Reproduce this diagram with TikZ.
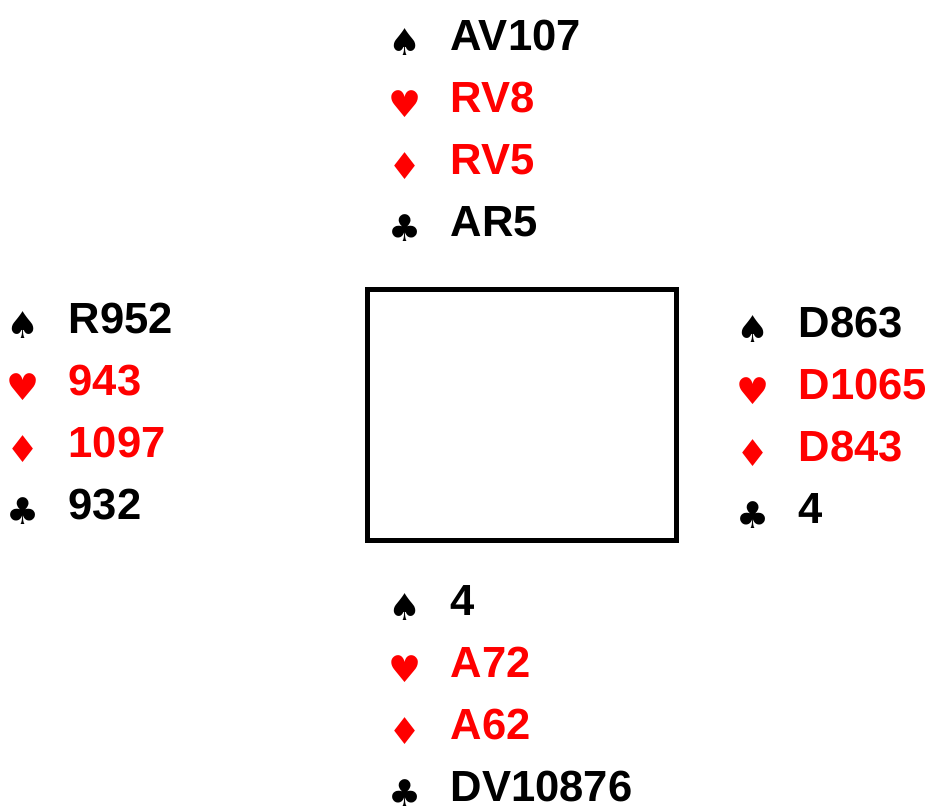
\documentclass[tikz,border=0pt]{standalone}
\usepackage{fontspec}
\setmainfont{Liberation Sans}
\newfontfamily\suitfont{DejaVu Sans}
\usepackage{tikz}
\usetikzlibrary{positioning}

\tikzset{
holding/.style={anchor=west, inner sep=0pt, text height=8.7pt, text depth=0pt, font=\bfseries\fontsize{12.4}{14}\selectfont},
suit/.style={inner sep=0pt, font=\suitfont\fontsize{10.5}{12}\selectfont},
redsuit/.style={red},
}

\newcommand{\hand}[6]{%
\node[holding] (#1sp) at (#2) {#3};
\node[holding, redsuit, below=0.30cm of #1sp.south west, anchor=north west] (#1he) {#4};
\node[holding, redsuit, below=0.30cm of #1he.south west, anchor=north west] (#1di) {#5};
\node[holding, below=0.30cm of #1di.south west, anchor=north west] (#1cl) {#6};
\node[suit] at ([xshift=-0.45cm, yshift=-0.07cm]#1sp.west) {♠};
\node[suit, redsuit] at ([xshift=-0.45cm, yshift=-0.07cm]#1he.west) {♥};
\node[suit, redsuit] at ([xshift=-0.45cm, yshift=-0.07cm]#1di.west) {♦};
\node[suit] at ([xshift=-0.45cm, yshift=-0.07cm]#1cl.west) {♣};
}

\begin{document}
\begin{tikzpicture}
\useasboundingbox (0,0) rectangle (9.34,8.07);
\draw[line width=1.4pt] (3.675,2.665) rectangle (6.765,5.175);
\hand{north}{4.50,7.72}{AV107}{RV8}{RV5}{AR5}
\hand{west}{0.68,4.89}{R952}{943}{1097}{932}
\hand{east}{7.98,4.85}{D863}{D1065}{D843}{4}
\hand{south}{4.50,2.07}{4}{A72}{A62}{DV10876}
\end{tikzpicture}
\end{document}
